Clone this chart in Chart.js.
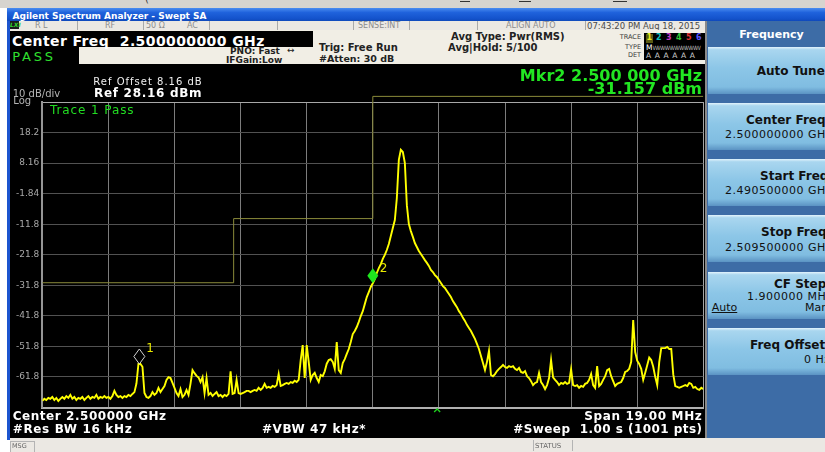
<!DOCTYPE html>
<html>
<head>
<meta charset="utf-8">
<title>Agilent Spectrum Analyzer - Swept SA</title>
<script src="https://cdn.jsdelivr.net/npm/chart.js@4.4.1/dist/chart.umd.min.js"></script>
<style>
  html, body { margin: 0; padding: 0; }
  body {
    width: 825px; height: 452px; overflow: hidden; position: relative;
    background: #ffffff; font-family: "DejaVu Sans", sans-serif;
  }
  .box { position: absolute; }
  .t { position: absolute; white-space: nowrap; line-height: 1; }
  .b { font-weight: bold; }
  .btn {
    position: absolute; left: 708px; width: 117px; height: 47px;
    background: linear-gradient(to bottom, #e2f3fc 0, #a9d6ef 6%, #8cc6e7 45%, #80bde1 85%, #5b93c3 100%);
  }
  .sep { position: absolute; top: 21px; width: 1px; height: 9px; background: #a9a9a9; }
</style>
</head>
<body>

<!-- window chrome -->
<div class="box" style="left:0;top:0;width:825px;height:8px;background:#d7d4cf"></div>
<div class="t" style="left:145px;top:-6px;font-size:10px;color:#333">(</div>
<div class="box" style="left:460px;top:1px;width:10px;height:1px;background:#333"></div>
<div class="box" style="left:519px;top:1px;width:12px;height:1px;background:#333"></div>
<div class="box" style="left:613px;top:1px;width:14px;height:1px;background:#333"></div>
<div class="box" style="left:7px;top:8px;width:818px;height:13px;background:linear-gradient(to bottom,#4a8cf0 0,#1f62dc 35%,#1453cc 80%,#0f49bb 100%)"></div>
<div class="t b" style="left:12.5px;top:12.4px;font-size:9px;color:#ffffff">Agilent Spectrum Analyzer - Swept SA</div>
<div class="box" style="left:7px;top:21px;width:3px;height:419px;background:#1d55cf"></div>

<!-- status row -->
<div class="box" style="left:10px;top:21px;width:696px;height:9px;background:#ebe8e3"></div>
<div class="sep" style="left:77px"></div><div class="sep" style="left:143px"></div>
<div class="sep" style="left:209px"></div><div class="sep" style="left:277px"></div>
<div class="sep" style="left:353px"></div><div class="sep" style="left:409px"></div>
<div class="sep" style="left:477px"></div><div class="sep" style="left:585px"></div>
<div class="t b" style="left:10px;top:21px;height:8px;width:9px;font-size:6px;font-style:italic;color:#2ed42e;background:#1c1c1c;line-height:8px">LXI</div>
<div class="t" style="left:35px;top:21.8px;font-size:8px;color:#8c8c8c">R L</div>
<div class="t" style="left:105px;top:21.8px;font-size:8px;color:#8c8c8c">RF</div>
<div class="t" style="left:146px;top:21.8px;font-size:8px;color:#8c8c8c">50 Ω</div>
<div class="t" style="left:187px;top:21.8px;font-size:8px;color:#8c8c8c">AC</div>
<div class="t" style="left:358px;top:21.8px;font-size:8px;color:#8c8c8c">SENSE:INT</div>
<div class="t" style="left:506px;top:21.8px;font-size:8px;color:#8c8c8c">ALIGN AUTO</div>
<div class="t" style="left:587px;top:21.8px;font-size:8.5px;color:#4a4a4a">07:43:20 PM Aug 18, 2015</div>

<!-- settings area -->
<div class="box" style="left:10px;top:30px;width:696px;height:34px;background:#f1eee5"></div>
<div class="box" style="left:10px;top:30.5px;width:303px;height:16.5px;background:#000"></div>
<div class="t b" style="left:12px;top:34.4px;font-size:14px;letter-spacing:0.4px;color:#ffffff">Center Freq&nbsp; 2.500000000 GHz</div>
<div class="box" style="left:10px;top:47px;width:69px;height:17px;background:#000"></div>
<div class="t" style="left:12.3px;top:50.2px;font-size:13px;letter-spacing:2.8px;color:#2fe02f">PASS</div>
<div class="t b" style="left:230px;top:46.6px;font-size:9px;color:#222">PNO: Fast</div>
<div class="t" style="left:287px;top:45.5px;font-size:9px;color:#222">↔</div>
<div class="t b" style="left:226px;top:56.2px;font-size:9px;color:#222">IFGain:Low</div>
<div class="t b" style="left:319px;top:43.1px;font-size:10px;color:#222">Trig: Free Run</div>
<div class="t b" style="left:319px;top:53.9px;font-size:9.5px;color:#222">#Atten: 30 dB</div>
<div class="t b" style="left:451px;top:32.3px;font-size:10px;color:#222">Avg Type: Pwr(RMS)</div>
<div class="t b" style="left:448px;top:43.1px;font-size:10px;color:#222">Avg|Hold: 5/100</div>
<div class="t" style="right:184px;top:34.2px;font-size:6.5px;color:#3a3a3a">TRACE</div>
<div class="t" style="right:184px;top:43.5px;font-size:6.5px;color:#3a3a3a">TYPE</div>
<div class="t" style="right:184px;top:51.9px;font-size:6.5px;color:#3a3a3a">DET</div>
<div class="box" style="left:644px;top:33px;width:61px;height:27px;background:#000"></div>
<div class="box" style="left:645.5px;top:34px;width:7px;height:9px;background:#5b5b12"></div>
<div class="t b" style="left:646.5px;top:34.3px;font-size:8px;color:#eaea20">1</div>
<div class="t b" style="left:656px;top:34.3px;font-size:8px;color:#10c0c0">2</div>
<div class="t b" style="left:666px;top:34.3px;font-size:8px;color:#c43cc4">3</div>
<div class="t b" style="left:676px;top:34.3px;font-size:8px;color:#34c834">4</div>
<div class="t b" style="left:686px;top:34.3px;font-size:8px;color:#e03232">5</div>
<div class="t b" style="left:696px;top:34.3px;font-size:8px;color:#5656ff">6</div>
<div class="t" style="left:646px;top:43.5px;font-size:7.5px;color:#ffffff">M<span style="color:#a8a8a8;letter-spacing:-1.2px;font-size:6px">WWWWWWWWWW</span></div>
<div class="t" style="left:646px;top:51.9px;font-size:7.5px;letter-spacing:3.4px;color:#d0d0d0">AAAAAA</div>

<!-- measurement display -->
<div class="box" id="plot" style="left:10px;top:64px;width:696px;height:374px;background:#000">
  <canvas id="sa" width="696" height="374"></canvas>
</div>
<div class="box" style="left:705px;top:21px;width:2px;height:417px;background:#8a8a8a"></div>
<div class="t" style="left:93.3px;top:77.1px;font-size:10px;letter-spacing:1px;color:#f0f0f0">Ref Offset 8.16 dB</div>
<div class="t b" style="left:94px;top:86.9px;font-size:12px;letter-spacing:0.7px;color:#ffffff">Ref 28.16 dBm</div>
<div class="t" style="left:12.7px;top:88.8px;font-size:10px;color:#b4b4b4">10 dB/div</div>
<div class="t" style="left:13.3px;top:95.8px;font-size:10px;color:#b4b4b4">Log</div>
<div class="t b" style="right:123px;top:67.6px;font-size:16px;color:#22e622">Mkr2 2.500 000 GHz</div>
<div class="t b" style="right:123px;top:81.4px;font-size:16px;color:#22e622">-31.157 dBm</div>
<div class="t" style="left:50px;top:104.1px;font-size:12px;letter-spacing:0.9px;color:#22dc22">Trace 1 Pass</div>
<div class="t b" style="left:12.7px;top:410.3px;font-size:12px;letter-spacing:0.55px;color:#ffffff">Center 2.500000 GHz</div>
<div class="t b" style="left:12.7px;top:422.6px;font-size:12px;letter-spacing:0.65px;color:#ffffff">#Res BW 16 kHz</div>
<div class="t b" style="left:262px;top:422.6px;font-size:12px;letter-spacing:0.55px;color:#ffffff">#VBW 47 kHz*</div>
<div class="t b" style="right:122.5px;top:410.3px;font-size:12px;letter-spacing:0.65px;color:#ffffff">Span 19.00 MHz</div>
<div class="t b" style="right:122.5px;top:422.6px;font-size:12px;letter-spacing:0.45px;color:#ffffff">#Sweep&nbsp; 1.00 s (1001 pts)</div>

<!-- bottom bar -->
<div class="box" style="left:10px;top:438px;width:815px;height:14px;background:#ebe8e3"></div>
<div class="box" style="left:10px;top:441px;width:23px;height:10px;border:1px solid #b4b4b4"></div>
<div class="t" style="left:12px;top:443px;font-size:6.5px;color:#666">MSG</div>
<div class="box" style="left:533px;top:440px;width:38px;height:11px;border-left:1px solid #b4b4b4;border-right:1px solid #b4b4b4"></div>
<div class="t" style="left:535px;top:443px;font-size:7px;color:#666">STATUS</div>

<!-- softkey panel -->
<div class="box" style="left:707px;top:21px;width:118px;height:417px;background:#3d6ca6"></div>
<div class="t b" style="left:739.3px;top:29.4px;font-size:11px;color:#ffffff">Frequency</div>
<div class="btn" style="top:46.7px"></div>
<div class="btn" style="top:102.9px"></div>
<div class="btn" style="top:159.1px"></div>
<div class="btn" style="top:215.3px"></div>
<div class="btn" style="top:271.5px"></div>
<div class="btn" style="top:327.7px"></div>
<div class="t b" style="left:756.7px;top:65.3px;font-size:12px;color:#111">Auto Tune</div>
<div class="t b" style="left:746px;top:113.6px;font-size:12px;color:#111">Center Freq</div>
<div class="t" style="left:725px;top:129.4px;font-size:11px;letter-spacing:0.5px;color:#111">2.500000000 GHz</div>
<div class="t b" style="left:760px;top:169.6px;font-size:12px;color:#111">Start Freq</div>
<div class="t" style="left:725px;top:185.4px;font-size:11px;letter-spacing:0.5px;color:#111">2.490500000 GHz</div>
<div class="t b" style="left:761px;top:225.9px;font-size:12px;color:#111">Stop Freq</div>
<div class="t" style="left:725px;top:242px;font-size:11px;letter-spacing:0.5px;color:#111">2.509500000 GHz</div>
<div class="t b" style="left:774px;top:277.9px;font-size:12px;color:#111">CF Step</div>
<div class="t" style="left:747px;top:291.4px;font-size:11px;letter-spacing:0.5px;color:#111">1.900000 MHz</div>
<div class="t" style="left:711.7px;top:302px;font-size:11px;color:#111;text-decoration:underline">Auto</div>
<div class="t" style="left:805px;top:302px;font-size:11px;color:#111">Man</div>
<div class="t b" style="left:750px;top:338.6px;font-size:12px;color:#111">Freq Offset</div>
<div class="t" style="left:804px;top:353.7px;font-size:11px;letter-spacing:0.5px;color:#111">0 Hz</div>

<script>
// Sweep: 2.4905 - 2.5095 GHz, plotted as MHz offset from the 2.5 GHz centre
const SPAN_START = -9.5;
const SPAN_STOP = 9.5;

// Trace 1 (dBm) at evenly spaced sweep points
const traceValues = [
  -69.7, -69.0, -69.4, -68.7, -69.0, -68.4, -69.4, -68.7, -69.7, -69.0,
  -68.4, -69.0, -68.1, -68.7, -67.7, -69.0, -68.4, -69.4, -68.7, -69.0,
  -68.4, -69.4, -68.7, -68.1, -69.0, -68.4, -68.7, -67.7, -69.0, -68.4,
  -68.7, -68.1, -68.7, -68.4, -69.0, -68.1, -66.4, -67.7, -68.4, -68.1,
  -68.7, -68.1, -68.4, -67.7, -68.1, -67.4, -66.8, -64.0, -57.6, -57.6,
  -58.5, -67.1, -68.4, -68.7, -68.1, -66.8, -67.7, -67.1, -65.4, -66.8,
  -65.8, -64.8, -62.8, -61.9, -62.2, -63.8, -65.4, -67.1, -68.1, -65.8,
  -68.4, -67.7, -66.1, -67.7, -64.0, -59.6, -60.6, -61.5, -62.0, -63.5,
  -61.9, -67.1, -62.2, -67.7, -67.1, -68.1, -67.4, -66.8, -68.1, -67.7,
  -68.4, -67.7, -68.1, -67.4, -60.0, -67.4, -67.1, -62.8, -67.1, -67.4,
  -67.1, -66.8, -66.4, -66.4, -66.8, -66.4, -66.1, -66.4, -65.4, -66.1,
  -65.4, -64.1, -65.4, -65.1, -65.4, -64.8, -65.1, -64.5, -60.9, -64.8,
  -64.5, -64.1, -63.8, -64.1, -63.5, -63.8, -63.1, -63.5, -62.8, -56.3,
  -51.4, -62.2, -51.4, -56.9, -62.8, -61.2, -60.5, -62.2, -63.5, -61.2,
  -61.6, -60.0, -57.5, -56.3, -56.0, -56.9, -59.2, -50.4, -59.6, -60.5,
  -57.3, -56.0, -54.3, -52.7, -50.4, -47.8, -46.8, -45.5, -43.8, -41.9,
  -40.3, -38.0, -35.7, -34.1, -32.4, -31.16, -29.8, -27.8, -26.2, -24.9,
  -23.2, -21.9, -20.3, -18.3, -15.7, -13.1, -10.5, -3.3, 9.2, 12.5,
  11.8, 8.2, -5.6, -11.8, -14.1, -16.0, -18.0, -19.3, -20.6, -21.6,
  -22.6, -23.6, -24.5, -25.5, -26.8, -27.5, -28.5, -29.1, -30.1, -31.1,
  -32.1, -32.7, -33.7, -34.7, -35.7, -37.0, -38.0, -39.0, -40.3, -41.2,
  -42.5, -43.5, -44.8, -45.8, -46.8, -48.1, -49.4, -51.0, -52.7, -55.0,
  -57.3, -59.6, -56.9, -53.3, -61.2, -61.6, -60.9, -59.9, -59.2, -58.6,
  -57.9, -58.6, -58.9, -58.3, -58.6, -58.3, -59.2, -59.6, -58.9, -60.2,
  -60.5, -59.9, -61.6, -62.2, -63.2, -64.5, -63.8, -63.5, -60.5, -63.5,
  -64.5, -65.8, -64.5, -62.2, -56.3, -62.0, -62.8, -63.5, -64.5, -63.8,
  -64.1, -63.5, -64.1, -63.8, -59.3, -64.5, -64.8, -64.5, -65.4, -64.8,
  -65.1, -64.1, -63.8, -62.8, -60.9, -64.5, -65.4, -58.3, -64.8, -64.1,
  -62.8, -61.6, -59.6, -59.2, -61.6, -63.2, -64.8, -64.1, -63.8, -63.5,
  -62.2, -60.2, -59.9, -59.2, -56.9, -43.2, -53.7, -56.5, -57.6, -59.2,
  -62.8, -60.5, -58.0, -55.5, -56.3, -58.5, -61.8, -64.5, -57.0, -52.4,
  -52.4, -52.4, -52.0, -52.7, -52.7, -61.0, -64.8, -65.1, -65.4, -65.1,
  -64.8, -64.5, -64.8, -63.8, -64.1, -65.4, -65.1, -65.8, -66.1, -65.4, -65.8
];

// limit line (stepped)
const limitFreqs = [-9.5, -4.0, 0.0, 9.5];
const limitAmps = [-31.0, -10.0, 30.0, 30.0];

// markers
const markerNames = ['1', '2'];
const markerFreqs = [-6.71, 0.0];
const markerAmps = [-57.6, -31.157];
const markerSelected = [false, true];
const caretFreq = 1.85;

// graticule
const xGridValues = [-9.5, -7.6, -5.7, -3.8, -1.9, 0, 1.9, 3.8, 5.7, 7.6, 9.5];
const yGridValues = [-71.84, -61.84, -51.84, -41.84, -31.84, -21.84, -11.84, -1.84, 8.16, 18.16, 28.16];
const yTickLabels = ['', '-61.8', '-51.8', '-41.8', '-31.8', '-21.8', '-11.8', '-1.84', '8.16', '18.2', ''];

const sweepStep = (SPAN_STOP - SPAN_START) / (traceValues.length - 1);
const tracePoints = traceValues.map((v, i) => ({ x: SPAN_START + i * sweepStep, y: v }));
const limitPoints = limitFreqs.map((f, i) => ({ x: f, y: limitAmps[i] }));

/**
 * Draws the marker diamonds (tip on the trace) and the small caret under the graticule.
 */
const markerPlugin = {
    id: 'saMarkers',
    afterDatasetsDraw(chart) {
        const { ctx, chartArea } = chart;
        const xs = chart.scales.x, ys = chart.scales.y;
        ctx.save();
        markerFreqs.forEach((f, i) => {
            const px = xs.getPixelForValue(f);
            const py = ys.getPixelForValue(markerAmps[i]);
            ctx.beginPath();
            ctx.moveTo(px, py - 15);
            ctx.lineTo(px + 5.5, py - 7.5);
            ctx.lineTo(px, py);
            ctx.lineTo(px - 5.5, py - 7.5);
            ctx.closePath();
            if (markerSelected[i]) {
                ctx.fillStyle = '#1ee61e';
                ctx.fill();
            } else {
                ctx.strokeStyle = '#d2d2d2';
                ctx.lineWidth = 1;
                ctx.stroke();
            }
            ctx.fillStyle = '#e8e800';
            ctx.font = '12px "DejaVu Sans"';
            ctx.textAlign = 'left';
            ctx.textBaseline = 'alphabetic';
            ctx.fillText(markerNames[i], px + 7, py - 11.5);
        });
        const cx = xs.getPixelForValue(caretFreq);
        const cy = chartArea.bottom + 1;
        ctx.beginPath();
        ctx.moveTo(cx - 3, cy + 3.5);
        ctx.lineTo(cx, cy + 0.5);
        ctx.lineTo(cx + 3, cy + 3.5);
        ctx.strokeStyle = '#1ed21e';
        ctx.lineWidth = 1.3;
        ctx.stroke();
        ctx.restore();
    }
};

new Chart(document.getElementById('sa'), {
    type: 'line',
    data: {
        datasets: [{
            label: 'Trace 1',
            data: tracePoints,
            borderColor: '#ffff00',
            borderWidth: 1.9,
            pointRadius: 0,
            tension: 0,
            order: 1
        }, {
            label: 'Limit',
            data: limitPoints,
            stepped: 'before',
            borderColor: '#8a8a3a',
            borderWidth: 1,
            pointRadius: 0,
            clip: { left: 0, top: 10, right: 0, bottom: 0 },
            order: 2
        }]
    },
    options: {
        responsive: false,
        animation: false,
        devicePixelRatio: 1,
        layout: { padding: { left: 0, top: 38, right: 2.7, bottom: 30.5 } },
        scales: {
            x: {
                type: 'linear',
                min: SPAN_START,
                max: SPAN_STOP,
                afterBuildTicks: s => { s.ticks = xGridValues.map(v => ({ value: v })); },
                afterFit: s => { s.height = 0; },
                ticks: { display: false },
                grid: {
                    drawTicks: false,
                    color: c => (c.index === 0 || c.index === xGridValues.length - 1) ? '#a4a4a4' : '#7c7c7c'
                },
                border: { color: '#b0b0b0', width: 2 }
            },
            y: {
                min: yGridValues[0],
                max: yGridValues[yGridValues.length - 1],
                afterBuildTicks: s => { s.ticks = yGridValues.map(v => ({ value: v })); },
                afterFit: s => { s.width = 32.3; },
                ticks: {
                    autoSkip: false,
                    padding: 3,
                    color: '#a8a8a8',
                    font: { family: 'DejaVu Sans', size: 9 },
                    callback: (v, i) => yTickLabels[i]
                },
                grid: {
                    drawTicks: false,
                    color: c => (c.index === yGridValues.length - 1) ? '#a8a8a8' : '#525252'
                },
                border: { color: '#969696', width: 2 }
            }
        },
        plugins: {
            legend: { display: false },
            tooltip: { enabled: false }
        }
    },
    plugins: [markerPlugin]
});
</script>
</body>
</html>
